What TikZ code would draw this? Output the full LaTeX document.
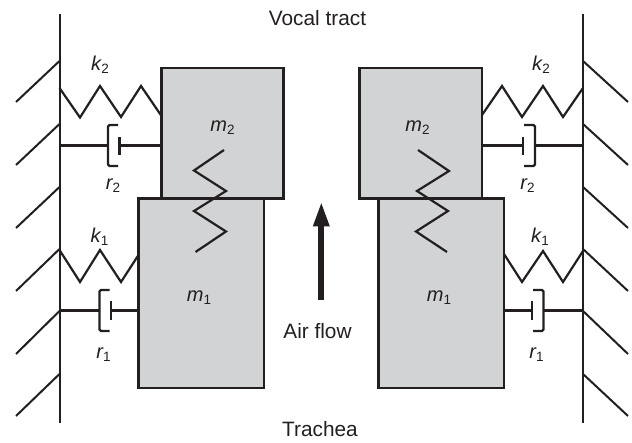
\documentclass[tikz,border=0pt]{standalone}
\usepackage{fontspec}
\setmainfont{Liberation Sans}
\usetikzlibrary{arrows.meta}
\definecolor{massgray}{HTML}{D1D3D4}
\definecolor{ink}{HTML}{231F20}
\tikzset{
  ln/.style={draw=ink,line width=2.2pt,line join=miter},
  thin ln/.style={draw=ink,line width=2pt},
  mass/.style={draw=ink,fill=massgray,line width=2.3pt,inner sep=0pt,outer sep=0pt},
  lbl/.style={text=ink,font=\fontsize{20.8}{24}\selectfont,inner sep=0pt},
  sym/.style={text=ink,font=\fontsize{20}{24}\selectfont\itshape,inner sep=0pt},
}
\newcommand{\symb}[2]{#1\kern0.3pt\raisebox{-3pt}{\fontsize{13.5}{15}\selectfont\upshape #2}}
\begin{document}
\begin{tikzpicture}[x=1pt,y=-1pt]
\useasboundingbox (0,0) rectangle (632,443);
% masses
\node[mass,minimum width=122pt,minimum height=130.5pt] (m2L) at (222.5,133.25) {};
\node[mass,minimum width=125.5pt,minimum height=189.5pt] (m1L) at (201.25,293.25) {};
\node[mass,minimum width=122.5pt,minimum height=130.5pt] (m2R) at (420.75,133.25) {};
\node[mass,minimum width=125.5pt,minimum height=189.5pt] (m1R) at (441.25,293.25) {};
% walls
\coordinate (wLt) at (59.8,14); \coordinate (wLb) at (59.8,423);
\coordinate (wRt) at (583,14); \coordinate (wRb) at (583,423);
\draw[ln] (wLt) -- (wLb);
\draw[ln] (wRt) -- (wRb);
% hatching
\foreach \i/\ya/\yb in {1/61/102,2/124/165,3/187/228,4/249/291,5/311/354,6/374/416}{
  \coordinate (hL\i) at (59.5,\ya); \coordinate (hLe\i) at (16,\yb);
  \coordinate (hR\i) at (583,\ya); \coordinate (hRe\i) at (628,\yb);
  \draw[thin ln] (hL\i) -- (hLe\i);
  \draw[thin ln] (hR\i) -- (hRe\i);
}
% springs
\coordinate (sk2La) at (59.5,88); \coordinate (sk2Lb) at (161.5,116);
\draw[ln] (sk2La) -- (80,117.5) -- (100,86) -- (121,117) -- (141,86) -- (sk2Lb);
\coordinate (sk1La) at (59.5,250); \coordinate (sk1Lb) at (138.5,255);
\draw[ln] (sk1La) -- (80,282) -- (100,250) -- (121,282) -- (sk1Lb);
\coordinate (sk2Ra) at (482,115); \coordinate (sk2Rb) at (583,88);
\draw[ln] (sk2Ra) -- (502,86) -- (522,117) -- (543,86) -- (563,117) -- (sk2Rb);
\coordinate (sk1Ra) at (504,254); \coordinate (sk1Rb) at (583,251);
\draw[ln] (sk1Ra) -- (522,282) -- (543,251) -- (563,282) -- (sk1Rb);
\coordinate (scLa) at (224,150); \coordinate (scLb) at (195.5,252);
\draw[ln] (scLa) -- (194,170.5) -- (226,191) -- (194,211) -- (226,231.5) -- (scLb);
\coordinate (scRa) at (418,150); \coordinate (scRb) at (447,252);
\draw[ln] (scRa) -- (449,171) -- (417,191) -- (448,211) -- (416,231.5) -- (scRb);
% dampers
\coordinate (d2La) at (59.5,145.5); \coordinate (d2Lb) at (108,145.5);
\coordinate (d2Lc) at (119.5,145.5); \coordinate (d2Ld) at (161.5,145.5);
\draw[ln] (d2La) -- (d2Lb); \draw[ln] (d2Lc) -- (d2Ld);
\draw[ln,rounded corners=1.5pt] (118,125) -- (108,125) -- (108,166) -- (118,166);
\draw[ln] (119.5,137) -- (119.5,155);
\coordinate (d1La) at (59.5,310.5); \coordinate (d1Lb) at (99.5,310.5);
\coordinate (d1Lc) at (111,310.5); \coordinate (d1Ld) at (138.5,310.5);
\draw[ln] (d1La) -- (d1Lb); \draw[ln] (d1Lc) -- (d1Ld);
\draw[ln,rounded corners=1.5pt] (109.5,290) -- (99.5,290) -- (99.5,331) -- (109.5,331);
\draw[ln] (111,301) -- (111,320);
\coordinate (d2Ra) at (482,145.5); \coordinate (d2Rb) at (523,145.5);
\coordinate (d2Rc) at (535,145.5); \coordinate (d2Rd) at (583,145.5);
\draw[ln] (d2Ra) -- (d2Rb); \draw[ln] (d2Rc) -- (d2Rd);
\draw[ln,rounded corners=1.5pt] (524,125) -- (535,125) -- (535,166) -- (524,166);
\draw[ln] (523,137) -- (523,155);
\coordinate (d1Ra) at (504,310.5); \coordinate (d1Rb) at (532,310.5);
\coordinate (d1Rc) at (543.5,310.5); \coordinate (d1Rd) at (583,310.5);
\draw[ln] (d1Ra) -- (d1Rb); \draw[ln] (d1Rc) -- (d1Rd);
\draw[ln,rounded corners=1.5pt] (533,290) -- (543.5,290) -- (543.5,331) -- (533,331);
\draw[ln] (532,301) -- (532,320);
% air-flow arrow
\coordinate (afb) at (321.3,300); \coordinate (aft) at (321.3,201.5);
\draw[draw=ink,line width=6pt,-{Triangle[length=25pt,width=15pt]}] (afb) -- (aft);
% labels
\node[lbl] (vt) at (317.5,18.5) {Vocal tract};
\node[lbl] (tr) at (320,429) {Trachea};
\node[lbl] (af) at (317.5,331) {Air flow};
\node[sym] (k2L) at (100,65) {\symb{k}{2}};
\node[sym] (r2L) at (113,186) {\symb{r}{2}};
\node[sym] (m2Lt) at (222.5,128) {\symb{m}{2}};
\node[sym] (k1L) at (99.5,237) {\symb{k}{1}};
\node[sym] (r1L) at (103.5,355) {\symb{r}{1}};
\node[sym] (m1Lt) at (199,298) {\symb{m}{1}};
\node[sym] (k2R) at (541,65) {\symb{k}{2}};
\node[sym] (r2R) at (527.5,186) {\symb{r}{2}};
\node[sym] (m2Rt) at (417.5,128) {\symb{m}{2}};
\node[sym] (k1R) at (540,237) {\symb{k}{1}};
\node[sym] (r1R) at (536.5,355) {\symb{r}{1}};
\node[sym] (m1Rt) at (439,298) {\symb{m}{1}};
\end{tikzpicture}
\end{document}
